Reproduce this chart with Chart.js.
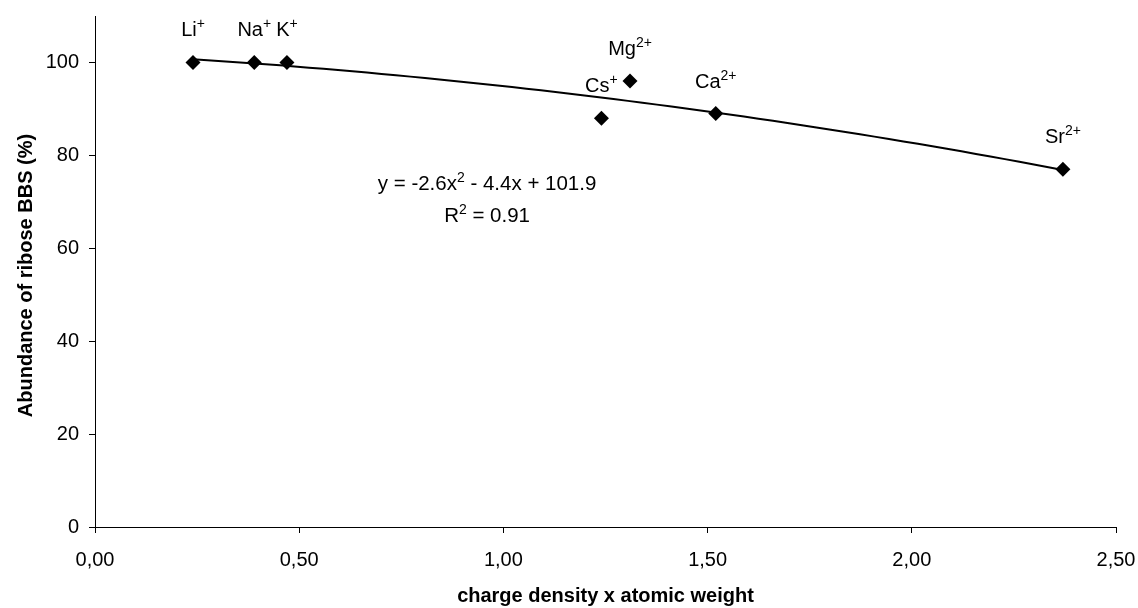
<!DOCTYPE html>
<html>
<head>
<meta charset="utf-8">
<title>Abundance of ribose BBS</title>
<script src="https://cdn.jsdelivr.net/npm/chart.js@4.4.1/dist/chart.umd.min.js"></script>
<style>
    html, body { margin: 0; padding: 0; background: #fff; }
    #chart { display: block; }
</style>
</head>
<body>
<canvas id="chart" width="1138" height="608"></canvas>
<script>
// data
const ions = ['Li', 'Na', 'K', 'Cs', 'Mg', 'Ca', 'Sr'];
const charges = ['+', '+', '+', '+', '2+', '2+', '2+'];
const chargeDensity = [0.24, 0.39, 0.47, 1.24, 1.31, 1.52, 2.37];
const abundance = [100, 100, 100, 88, 96, 89, 77];

// polynomial trendline as printed on the chart: y = a*x^2 + b*x + c
const trendCoef = [-2.6, -4.4, 101.9];
const trendR2 = 0.91;

const xTickValues = [0, 0.5, 1, 1.5, 2, 2.5];
const yTickValues = [0, 20, 40, 60, 80, 100];

const FONT = 'Liberation Sans, Arial, Helvetica, sans-serif';

// trendline sampled over the data range
var trendPoints = [];
var xMin = Math.min.apply(null, chargeDensity);
var xMax = Math.max.apply(null, chargeDensity);
for (var i = 0; i <= 60; i++) {
    var x = xMin + (xMax - xMin) * i / 60;
    trendPoints.push({ x: x, y: trendCoef[0] * x * x + trendCoef[1] * x + trendCoef[2] });
}

// draws a list of [text, isSup] parts centred on cx, baseline by
function drawParts(ctx, parts, cx, by, size) {
    var supSize = Math.round(size * 0.68);
    var total = 0;
    parts.forEach(function (p) {
        ctx.font = (p[1] ? supSize : size) + 'px ' + FONT;
        total += ctx.measureText(p[0]).width;
    });
    var x = cx - total / 2;
    ctx.textAlign = 'left';
    ctx.textBaseline = 'alphabetic';
    parts.forEach(function (p) {
        ctx.font = (p[1] ? supSize : size) + 'px ' + FONT;
        ctx.fillText(p[0], x, p[1] ? by - size * 0.4 : by);
        x += ctx.measureText(p[0]).width;
    });
}

const ionLabels = {
    id: 'ionLabels',
    afterDatasetsDraw: function (chart) {
        var ctx = chart.ctx;
        var meta = chart.getDatasetMeta(1);
        ctx.save();
        ctx.fillStyle = '#000';
        meta.data.forEach(function (pt, i) {
            drawParts(ctx, [[ions[i], false], [charges[i], true]], pt.x, pt.y - 26, 20);
        });
        ctx.restore();
    }
};

const equationText = {
    id: 'equationText',
    afterDatasetsDraw: function (chart) {
        var ctx = chart.ctx;
        var xs = chart.scales.x, ys = chart.scales.y;
        var cx = xs.getPixelForValue(0.96);
        var b1 = ys.getPixelForValue(72.5);
        var b2 = ys.getPixelForValue(65.7);
        var a = trendCoef[0], b = trendCoef[1], c = trendCoef[2];
        ctx.save();
        ctx.fillStyle = '#000';
        drawParts(ctx, [
            ['y = ' + (a < 0 ? '-' : '') + Math.abs(a).toFixed(1) + 'x', false],
            ['2', true],
            [' ' + (b < 0 ? '-' : '+') + ' ' + Math.abs(b).toFixed(1) + 'x + ' + c.toFixed(1), false]
        ], cx, b1, 20.5);
        drawParts(ctx, [['R', false], ['2', true], [' = ' + trendR2.toFixed(2), false]], cx, b2, 20.5);
        ctx.restore();
    }
};

const axisTitles = {
    id: 'axisTitles',
    afterDraw: function (chart) {
        var ctx = chart.ctx;
        var area = chart.chartArea;
        ctx.save();
        ctx.fillStyle = '#000';
        ctx.font = 'bold 20px ' + FONT;
        ctx.textAlign = 'center';
        ctx.textBaseline = 'alphabetic';
        ctx.fillText('charge density x atomic weight', (area.left + area.right) / 2, 602);
        ctx.translate(32, (area.top + area.bottom) / 2 + 4);
        ctx.rotate(-Math.PI / 2);
        ctx.fillText('Abundance of ribose BBS (%)', 0, 0);
        ctx.restore();
    }
};

var ctx = document.getElementById('chart').getContext('2d');
var chart = new Chart(ctx, {
    type: 'scatter',
    data: {
        datasets: [
            {
                type: 'line',
                label: 'Trendline',
                data: trendPoints,
                borderColor: '#000',
                borderWidth: 2,
                pointRadius: 0,
                tension: 0,
                fill: false
            },
            {
                label: 'Ions',
                data: chargeDensity.map(function (x, i) { return { x: x, y: abundance[i] }; }),
                pointStyle: 'rectRot',
                pointRadius: 7.5,
                backgroundColor: '#000',
                borderColor: '#000',
                borderWidth: 0
            }
        ]
    },
    options: {
        responsive: false,
        animation: false,
        devicePixelRatio: 1,
        layout: { padding: { top: 16, right: 22, left: 0, bottom: 0 } },
        plugins: {
            legend: { display: false },
            tooltip: { enabled: false },
            title: { display: false }
        },
        scales: {
            x: {
                type: 'linear',
                min: 0,
                max: 2.5,
                afterFit: function (scale) {
                    scale.height = 81;
                    scale.paddingLeft = 0;
                    scale.paddingRight = 0;
                },
                afterBuildTicks: function (scale) {
                    scale.ticks = xTickValues.map(function (v) { return { value: v }; });
                },
                grid: { drawOnChartArea: false, drawTicks: true, tickLength: 6, color: '#000' },
                border: { color: '#000', width: 1 },
                ticks: {
                    color: '#000',
                    padding: 15,
                    maxRotation: 0,
                    font: { family: FONT, size: 20 },
                    callback: function (v) { return Number(v).toFixed(2).replace('.', ','); }
                }
            },
            y: {
                min: 0,
                max: 110,
                afterFit: function (scale) {
                    scale.width = 95;
                    scale.paddingTop = 0;
                    scale.paddingBottom = 0;
                },
                afterBuildTicks: function (scale) {
                    scale.ticks = yTickValues.map(function (v) { return { value: v }; });
                },
                grid: { drawOnChartArea: false, drawTicks: true, tickLength: 6, color: '#000' },
                border: { color: '#000', width: 1 },
                ticks: {
                    color: '#000',
                    padding: 10,
                    font: { family: FONT, size: 20 }
                }
            }
        }
    },
    plugins: [ionLabels, equationText, axisTitles]
});
</script>
</body>
</html>
